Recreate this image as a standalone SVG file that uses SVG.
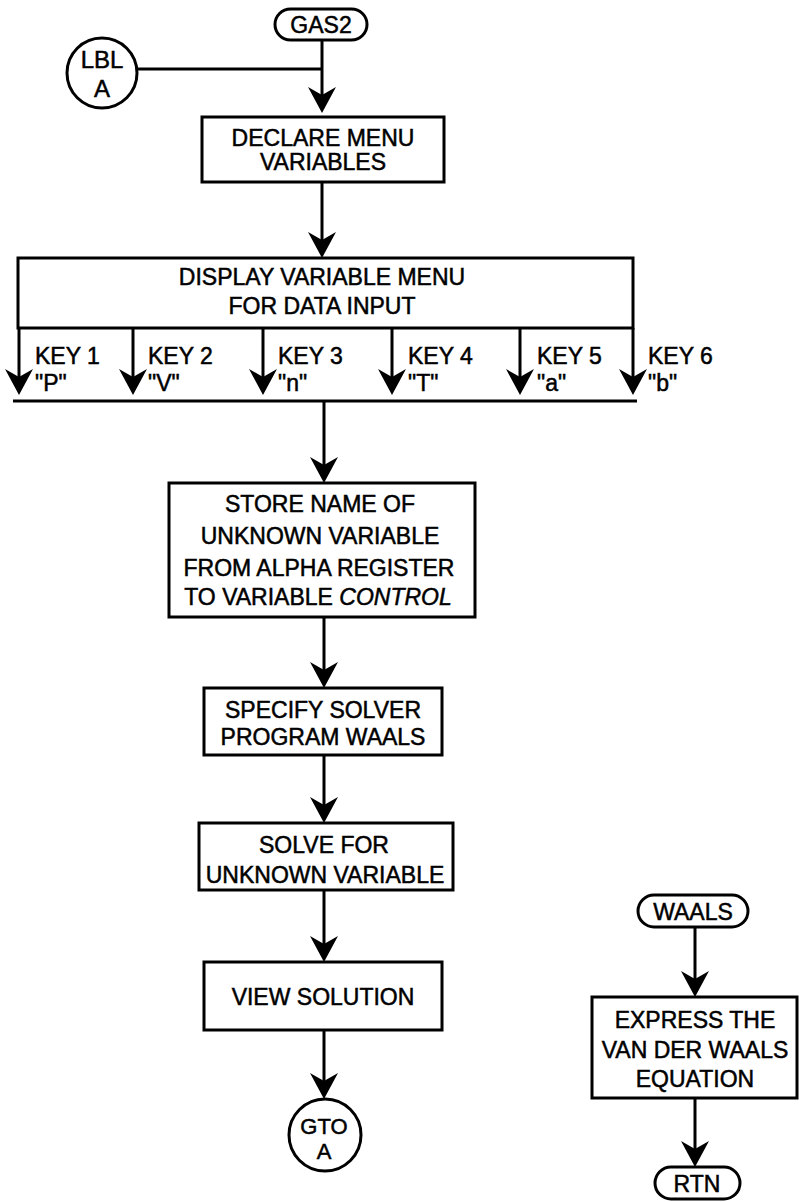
<svg xmlns="http://www.w3.org/2000/svg" width="799" height="1202" viewBox="0 0 799 1202">
<style>
.box{fill:#fff;stroke:#000;stroke-width:3}
.ln{fill:none;stroke:#000;stroke-width:3}
.arr{fill:none;stroke:#000;stroke-width:3;marker-end:url(#ah)}
text{font-family:"Liberation Sans",Arial,Helvetica,sans-serif;font-size:23px;fill:#000;stroke:#000;stroke-width:0.5;text-anchor:middle}
.l{text-anchor:start}
.c{font-size:24px}
.g{font-size:22px}
</style>
<defs>
<marker id="ah" markerUnits="userSpaceOnUse" markerWidth="30" markerHeight="30" viewBox="0 0 30 30" refX="20" refY="15" orient="auto">
<path d="M28,15 L2,1 L10,15 L2,29 Z" fill="#000"/>
</marker>
</defs>
<rect width="799" height="1202" fill="#fff"/>
<g id="connectors">
<path class="ln" d="M137,69 H322"/>
<path class="arr" d="M322,40 V105"/>
<path class="arr" d="M322,182 V250"/>
<path class="arr" d="M19,328 V387"/>
<path class="arr" d="M133,328 V387"/>
<path class="arr" d="M263,328 V387"/>
<path class="arr" d="M392,328 V387"/>
<path class="arr" d="M520,328 V387"/>
<path class="arr" d="M633,328 V387"/>
<path class="ln" d="M13,401 H637"/>
<path class="arr" d="M324,401 V475"/>
<path class="arr" d="M324,617 V680"/>
<path class="arr" d="M324,755 V815"/>
<path class="arr" d="M324,890 V954"/>
<path class="arr" d="M324,1030 V1091"/>
<path class="arr" d="M695,927 V989"/>
<path class="arr" d="M695,1098 V1159"/>
</g>
<g id="gas2">
<rect class="box" x="275" y="9" width="92" height="31" rx="15.5"/>
<text x="321" y="33">GAS2</text>
</g>
<g id="lbl-a">
<circle class="box" cx="102" cy="73" r="35"/>
<text class="c" x="102" y="68">LBL</text>
<text class="c" x="102" y="97">A</text>
</g>
<g id="declare">
<rect class="box" x="202" y="117" width="242" height="65"/>
<text x="323" y="146">DECLARE MENU</text>
<text x="323" y="170">VARIABLES</text>
</g>
<g id="display">
<rect class="box" x="18" y="258" width="615" height="70"/>
<text x="322" y="285">DISPLAY VARIABLE MENU</text>
<text x="322" y="314">FOR DATA INPUT</text>
</g>
<g id="keys">
<text class="l" x="35" y="364">KEY 1</text>
<text class="l" x="35" y="391">"P"</text>
<text class="l" x="148" y="364">KEY 2</text>
<text class="l" x="148" y="391">"V"</text>
<text class="l" x="278" y="364">KEY 3</text>
<text class="l" x="278" y="391">"n"</text>
<text class="l" x="408" y="364">KEY 4</text>
<text class="l" x="408" y="391">"T"</text>
<text class="l" x="537" y="364">KEY 5</text>
<text class="l" x="537" y="391">"a"</text>
<text class="l" x="648" y="364">KEY 6</text>
<text class="l" x="648" y="391">"b"</text>
</g>
<g id="store">
<rect class="box" x="169" y="483" width="306" height="134"/>
<text x="320" y="512">STORE NAME OF</text>
<text x="320" y="544">UNKNOWN VARIABLE</text>
<text x="319" y="576">FROM ALPHA REGISTER</text>
<text x="318" y="605">TO VARIABLE <tspan font-style="italic">CONTROL</tspan></text>
</g>
<g id="specify">
<rect class="box" x="204" y="688" width="238" height="67"/>
<text x="323" y="718">SPECIFY SOLVER</text>
<text x="323" y="745">PROGRAM WAALS</text>
</g>
<g id="solve">
<rect class="box" x="199" y="823" width="254" height="67"/>
<text x="324" y="853">SOLVE FOR</text>
<text x="325" y="883">UNKNOWN VARIABLE</text>
</g>
<g id="view">
<rect class="box" x="204" y="962" width="238" height="68"/>
<text x="323" y="1005">VIEW SOLUTION</text>
</g>
<g id="gto-a">
<circle class="box" cx="325" cy="1135" r="36"/>
<text class="g" x="324" y="1134">GTO</text>
<text class="g" x="324" y="1159">A</text>
</g>
<g id="waals">
<rect class="box" x="638" y="895" width="110" height="32" rx="16"/>
<text x="693" y="920">WAALS</text>
</g>
<g id="express">
<rect class="box" x="592" y="997" width="205" height="101"/>
<text x="695" y="1028">EXPRESS THE</text>
<text x="695" y="1058">VAN DER WAALS</text>
<text x="695" y="1087">EQUATION</text>
</g>
<g id="rtn">
<rect class="box" x="655" y="1167" width="85" height="32" rx="16"/>
<text x="697" y="1192">RTN</text>
</g>
</svg>
